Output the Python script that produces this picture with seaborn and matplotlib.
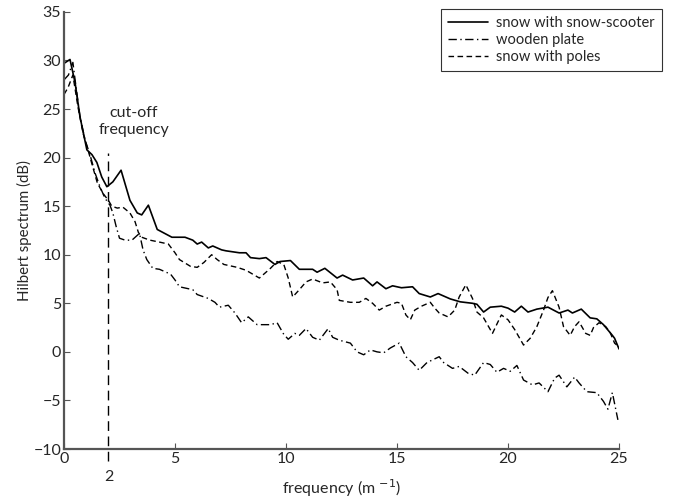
import matplotlib
matplotlib.use("Agg")
import matplotlib.pyplot as plt
import seaborn as sns

# Readings of the three spectra (frequency in 1/m, spectrum in dB)
scooter_freq = [0, 0.27, 0.5, 0.72, 1.03, 1.26, 1.48, 1.7, 1.93, 2.2, 2.57, 2.97, 3.3, 3.5,
                3.8, 4.2, 4.86, 5.45, 5.8, 6.0, 6.2, 6.5, 6.7, 7.1, 7.3, 7.9, 8.2, 8.4, 8.8,
                9.1, 9.5, 9.73, 10.2, 10.6, 11.2, 11.4, 11.75, 12.3, 12.55, 13.0, 13.5, 13.9,
                14.1, 14.5, 14.8, 15.2, 15.7, 16.0, 16.5, 16.85, 17.4, 17.85, 18.4, 18.6,
                18.9, 19.2, 19.7, 20.0, 20.3, 20.6, 20.9, 21.3, 21.8, 22.3, 22.7, 22.9, 23.3,
                23.7, 24.0, 24.3, 24.7, 24.8, 25.0]
scooter_db = [29.7, 30.1, 27.7, 24.2, 20.8, 20.3, 19.5, 18.0, 17.0, 17.5, 18.7, 15.6, 14.3,
              14.1, 15.1, 12.6, 11.8, 11.8, 11.5, 11.1, 11.3, 10.7, 10.9, 10.5, 10.4, 10.2,
              10.2, 9.7, 9.6, 9.7, 9.0, 9.3, 9.4, 8.5, 8.5, 8.2, 8.6, 7.6, 7.9, 7.4, 7.6,
              6.8, 7.2, 6.5, 6.8, 6.6, 6.7, 6.0, 5.65, 6.0, 5.45, 5.15, 5.0, 4.9, 4.1, 4.6,
              4.7, 4.5, 4.1, 4.7, 4.1, 4.4, 4.6, 4.0, 4.3, 4.0, 4.4, 3.5, 3.4, 2.8, 1.7,
              1.4, 0.3]

plate_freq = [0, 0.2, 0.4, 0.5, 0.72, 0.95, 1.17, 1.4, 1.62, 1.85, 2.07, 2.2, 2.35, 2.5,
              2.75, 3.06, 3.4, 3.56, 3.73, 4.0, 4.3, 4.8, 5.0, 5.2, 5.8, 6.0, 6.5, 6.8, 7.0,
              7.4, 7.7, 8.0, 8.3, 8.7, 9.3, 9.6, 9.9, 10.1, 10.4, 10.6, 10.9, 11.2, 11.5,
              11.9, 12.1, 12.4, 12.9, 13.2, 13.5, 13.8, 14.1, 14.4, 14.7, 15.1, 15.4, 15.7,
              16.0, 16.35, 16.9, 17.1, 17.5, 17.8, 18.2, 18.5, 18.9, 19.2, 19.5, 19.8, 20.1,
              20.4, 20.7, 21.1, 21.4, 21.8, 22.1, 22.3, 22.65, 23.0, 23.2, 23.55, 24.0,
              24.3, 24.5, 24.7, 24.95]
plate_db = [28.0, 28.5, 29.8, 28.0, 24.2, 21.8, 20.3, 18.4, 17.0, 15.8, 15.1, 14.3, 12.9,
            11.7, 11.5, 11.5, 12.2, 10.5, 9.5, 8.6, 8.5, 8.0, 7.4, 6.7, 6.4, 5.9, 5.5, 5.1,
            4.6, 4.8, 4.0, 3.0, 3.6, 2.8, 2.8, 3.0, 1.8, 1.3, 1.9, 1.7, 2.4, 1.5, 1.2, 2.4,
            1.5, 1.2, 0.9, 0.0, -0.3, 0.2, 0.0, -0.1, 0.4, 0.9, -0.5, -1.1, -1.9, -1.1,
            -0.5, -1.1, -1.7, -1.5, -2.2, -2.4, -1.1, -1.3, -2.1, -1.7, -2.0, -1.4, -2.9,
            -3.4, -3.2, -4.1, -2.7, -2.4, -3.6, -2.6, -3.2, -4.1, -4.2, -5.1, -5.9, -4.2,
            -7.0]

poles_freq = [0, 0.18, 0.4, 0.63, 0.86, 1.08, 1.3, 1.5, 1.76, 2.0, 2.15, 2.4, 2.65, 2.97,
              3.2, 3.35, 3.5, 3.87, 4.3, 4.7, 5.0, 5.2, 5.7, 6.0, 6.3, 6.65, 6.9, 7.2, 7.8,
              8.2, 8.8, 9.3, 9.6, 9.9, 10.1, 10.3, 10.6, 10.9, 11.2, 11.65, 12.0, 12.3,
              12.4, 12.9, 13.3, 13.6, 13.9, 14.2, 14.5, 15.0, 15.2, 15.4, 15.6, 15.8, 16.1,
              16.5, 16.7, 16.9, 17.3, 17.6, 17.8, 18.1, 18.4, 18.6, 18.9, 19.3, 19.55,
              19.7, 20.0, 20.3, 20.7, 21.0, 21.3, 21.6, 21.8, 22.0, 22.3, 22.5, 22.8, 23.0,
              23.2, 23.5, 23.7, 23.85, 24.1, 24.4, 24.6, 24.8, 25.0]
poles_db = [26.5, 27.2, 28.5, 25.2, 22.5, 20.8, 19.0, 17.4, 16.3, 15.6, 15.0, 14.8, 14.9,
            14.3, 13.4, 12.3, 11.8, 11.5, 11.3, 11.1, 10.2, 9.5, 8.8, 8.7, 9.2, 10.0, 9.5,
            9.0, 8.7, 8.4, 7.6, 8.6, 9.3, 9.0, 7.6, 5.65, 6.4, 7.2, 7.5, 7.1, 7.2, 6.4, 5.3,
            5.1, 5.1, 5.5, 5.0, 4.3, 4.7, 5.1, 5.0, 3.8, 3.3, 4.3, 4.7, 5.1, 4.5, 4.0, 3.6,
            4.3, 5.65, 6.9, 5.5, 4.1, 3.5, 1.9, 3.1, 3.8, 3.3, 2.3, 0.7, 1.4, 2.6, 4.3, 5.6,
            6.3, 4.6, 2.6, 1.7, 2.6, 3.1, 1.9, 1.7, 2.5, 3.0, 2.6, 2.0, 0.9, 0.5]

CUTOFF = 2
X_TICKS = [0, 5, 10, 15, 20, 25]
Y_TICKS = [-10, -5, 0, 5, 10, 15, 20, 25, 30, 35]
FS = 11.5

sns.set_style("ticks")
plt.rcParams["font.family"] = ["Lato", "DejaVu Sans"]
axis_grey = "#555555"

fig = plt.figure(figsize=(6.78, 4.99), dpi=100)
ax = fig.add_axes([0.0944, 0.1002, 0.8186, 0.876])

sns.lineplot(x=scooter_freq, y=scooter_db, ax=ax, color="black", linewidth=1.2,
             label="snow with snow-scooter")
sns.lineplot(x=plate_freq, y=plate_db, ax=ax, color="black", linewidth=1.0,
             label="wooden plate")
sns.lineplot(x=poles_freq, y=poles_db, ax=ax, color="black", linewidth=1.0,
             label="snow with poles")
ax.lines[1].set_dashes([6, 2.5, 1, 2.5])
ax.lines[2].set_dashes([4, 2.5])

# cut-off frequency marker, running below the axis down to its own label
ax.plot([CUTOFF, CUTOFF], [-11.2, 20.5], color="black", linewidth=1.0,
        dashes=[7, 4], clip_on=False)
ax.text(3.15, 23.7, "cut-off\nfrequency", ha="center", va="center", fontsize=FS,
        linespacing=1.25)
ax.text(CUTOFF, -12.9, "2", ha="center", va="center", fontsize=FS)

ax.set_xlim(0, 25)
ax.set_ylim(-10, 35)
ax.set_xticks(X_TICKS)
ax.set_yticks(Y_TICKS)
ax.set_xlabel("frequency (m $^{-1}$)", fontsize=FS, labelpad=8)
ax.set_ylabel("Hilbert spectrum (dB)", fontsize=10.8, labelpad=1)
ax.tick_params(direction="in", length=4, color=axis_grey, labelsize=FS, pad=2)
sns.despine(ax=ax)
for side in ["left", "bottom"]:
    ax.spines[side].set_color(axis_grey)
    ax.spines[side].set_linewidth(1.6)

leg = ax.legend(loc="upper right", bbox_to_anchor=(0.976, 0.982),
                bbox_transform=fig.transFigure, borderaxespad=0, fancybox=False,
                fontsize=10.5, handlelength=2.7, handletextpad=0.55, labelspacing=0.2,
                borderpad=0.5)
leg.get_frame().set_edgecolor("black")
leg.get_frame().set_linewidth(0.8)

fig.savefig("out.png", dpi=100)
